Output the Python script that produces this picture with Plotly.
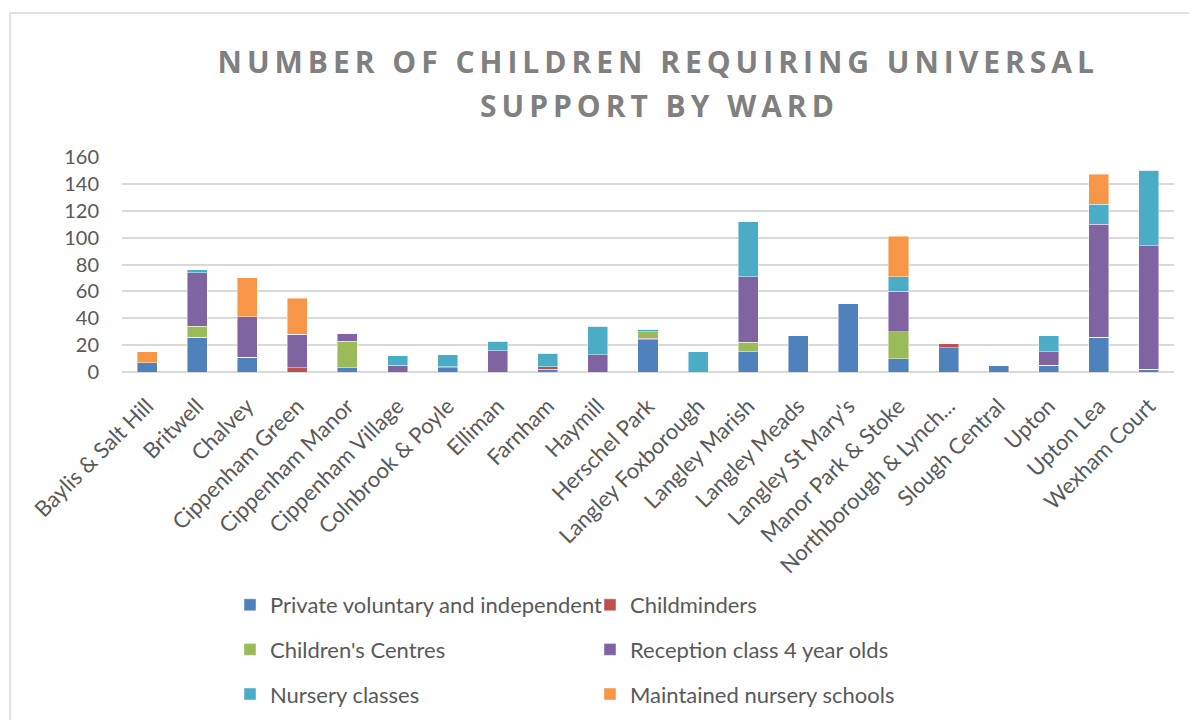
import plotly.graph_objects as go

wards = ["Baylis & Salt Hill", "Britwell", "Chalvey", "Cippenham Green", "Cippenham Manor",
         "Cippenham Village", "Colnbrook & Poyle", "Elliman", "Farnham", "Haymill",
         "Herschel Park", "Langley Foxborough", "Langley Marish", "Langley Meads",
         "Langley St Mary's", "Manor Park & Stoke", "Northborough & Lynch...", "Slough Central",
         "Upton", "Upton Lea", "Wexham Court"]

private_voluntary = [7, 26, 11, 0, 3, 0, 3, 0, 2, 0, 24, 0, 15, 27, 51, 10, 18, 5, 5, 26, 2]
childminders      = [0, 0, 0, 3, 0, 0, 1, 0, 2, 0, 1, 0, 0, 0, 0, 0, 3, 0, 0, 0, 0]
childrens_centres = [0, 8, 0, 0, 20, 0, 0, 0, 0, 0, 5, 0, 7, 0, 0, 20, 0, 0, 0, 0, 0]
reception_4yo     = [0, 40, 30, 25, 6, 5, 0, 16, 0, 13, 0, 0, 49, 0, 0, 30, 0, 0, 10, 84, 92]
nursery_classes   = [0, 2, 0, 0, 0, 7, 9, 7, 10, 21, 2, 15, 41, 0, 0, 11, 0, 0, 12, 15, 56]
maintained_nursery = [8, 0, 29, 27, 0, 0, 0, 0, 0, 0, 0, 0, 0, 0, 0, 30, 0, 0, 0, 22, 0]

series = [
    ("Private voluntary and independent", private_voluntary, "#4f81bd", "legend"),
    ("Childminders", childminders, "#c0504d", "legend2"),
    ("Children's Centres", childrens_centres, "#9bbb59", "legend"),
    ("Reception class 4 year olds", reception_4yo, "#8064a2", "legend2"),
    ("Nursery classes", nursery_classes, "#4bacc6", "legend"),
    ("Maintained nursery schools", maintained_nursery, "#f79646", "legend2"),
]

FONT = "Lato"
GREY = "#595959"
TITLE_GREY = "#808080"

fig = go.Figure()
for i, (name, vals, color, leg) in enumerate(series):
    fig.add_trace(go.Bar(
        x=wards, y=vals, name=name, legend=leg, legendgroup=f"g{i}",
        marker=dict(color=color, line=dict(color="rgba(255,255,255,0.55)", width=0.8)),
    ))

title_lines = ["NUMBER OF CHILDREN REQUIRING UNIVERSAL", "SUPPORT BY WARD"]
def spaced(s):
    return "\u2009".join(list(s))

title_font = dict(family="Open Sans", size=30, color=TITLE_GREY, weight="bold")

legend_common = dict(
    orientation="v", traceorder="grouped", tracegroupgap=13,
    font=dict(family=FONT, size=22, color=GREY),
    bgcolor="rgba(0,0,0,0)", xanchor="left", yanchor="top",
    itemwidth=30,
)

fig.update_layout(
    width=1189, height=720,
    margin=dict(l=122, r=15, t=157, b=348, autoexpand=False),
    paper_bgcolor="white", plot_bgcolor="white",
    barmode="stack", bargap=0.6,
    font=dict(family=FONT, color=GREY),
    title=dict(text=spaced(title_lines[0]), x=0.5515, xanchor="center",
               y=1 - 62 / 720, yanchor="middle", font=title_font),
    annotations=[dict(text=spaced(title_lines[1]), xref="paper", yref="paper",
                      x=(657 - 122) / 1052, y=(372 - 106) / 215,
                      xanchor="center", yanchor="middle", showarrow=False,
                      font=title_font)],
    xaxis=dict(tickangle=-45, tickfont=dict(family=FONT, size=22, color=GREY),
               showgrid=False, showline=False, ticks="", ticklabelstandoff=16,
               automargin=False),
    yaxis=dict(range=[0, 160], dtick=20, showgrid=True, gridcolor="#d9d9d9", gridwidth=1.5,
               zeroline=True, zerolinecolor="#d9d9d9", zerolinewidth=1.5,
               tickfont=dict(family=FONT, size=20, color=GREY), ticklabelstandoff=22,
               automargin=False),
    legend=dict(x=(230 - 122) / 1052, y=(372 - 584) / 215, **legend_common),
    legend2=dict(x=(590 - 122) / 1052, y=(372 - 584) / 215, **legend_common),
    shapes=[dict(type="rect", xref="paper", yref="paper",
                 x0=(10 - 122) / 1052, x1=1.2, y0=-3, y1=(372 - 13) / 215,
                 line=dict(color="#d9d9d9", width=1.5), layer="below")],
)

fig.write_html("out.html")
